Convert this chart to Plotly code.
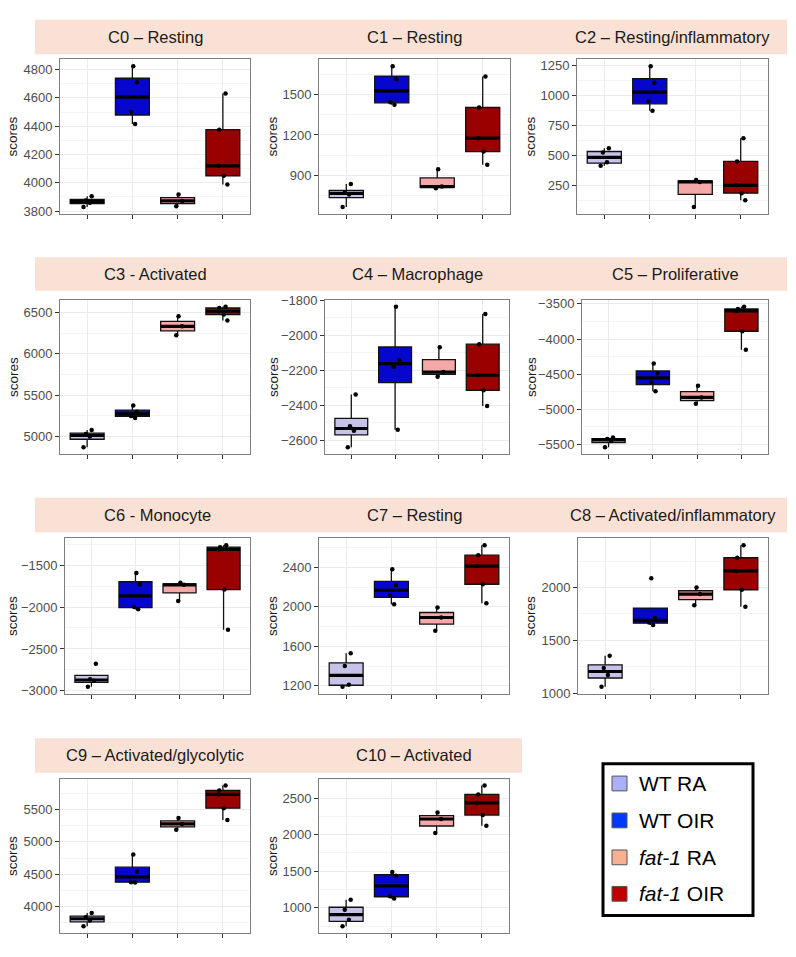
import numpy as np
import plotly.graph_objects as go

W, H = 796, 957

# ---------------- data ----------------
GROUPS = ["WT RA", "WT OIR", "fat-1 RA", "fat-1 OIR"]
LEGEND_LABELS = ["WT RA", "WT OIR", "<i>fat-1</i> RA", "<i>fat-1</i> OIR"]
BOX_COLORS = ["#C7C2E7", "#0606CC", "#F5A8A8", "#990000"]
LEGEND_COLORS = ["#A9B0F8", "#0038FF", "#F5B192", "#C00000"]

TITLES = ["C0 – Resting", "C1 – Resting", "C2 – Resting/inflammatory",
          "C3 - Activated", "C4 – Macrophage", "C5 – Proliferative",
          "C6 - Monocyte", "C7 – Resting", "C8 – Activated/inflammatory",
          "C9 – Activated/glycolytic", "C10 – Activated"]
Y_LABEL = "scores"

C0 = [[3830, 3860, 3875, 3905], [4415, 4500, 4710, 4823], [3835, 3872, 3918], [3988, 4050, 4120, 4375, 4631]]
C1 = [[668, 760, 775, 837], [1423, 1442, 1611, 1708], [806, 818, 946], [980, 1077, 1176, 1403, 1633]]
C2 = [[415, 443, 525, 560], [874, 951, 1109, 1246], [71, 280, 295], [126, 186, 251, 451, 645]]
C3 = [[4870, 5000, 5030, 5080], [5226, 5250, 5300, 5377], [6226, 6333, 6456], [6405, 6476, 6516, 6555, 6571]]
C4 = [[-2640, -2545, -2520, -2339], [-2540, -2181, -2144, -1838], [-2237, -2211, -2069], [-2404, -2315, -2229, -2052, -1879]]
C5 = [[-5540, -5450, -5420, -5400], [-4743, -4617, -4488, -4348], [-4919, -4830, -4664], [-4153, -3889, -3600, -3573, -3540]]
C6 = [[-2950, -2880, -2860, -2675], [-2027, -2000, -1733, -1596], [-1929, -1735, -1712], [-2270, -1792, -1314, -1287, -1263]]
C7 = [[1190, 1210, 1400, 1530], [2027, 2118, 2218, 2380], [1758, 1892, 1993], [2037, 2229, 2413, 2524, 2625]]
C8 = [[1060, 1170, 1238, 1353], [1644, 1668, 1710, 2088], [1831, 1937, 2000], [1816, 1978, 2156, 2281, 2400]]
C9 = [[3700, 3790, 3840, 3905], [4375, 4380, 4545, 4808], [5187, 5278, 5370], [5338, 5520, 5732, 5793, 5869]]
C10 = [[750, 840, 975, 1110], [1130, 1160, 1440, 1490], [2022, 2214, 2304], [2120, 2268, 2433, 2549, 2670]]
CLUSTERS = [C0, C1, C2, C3, C4, C5, C6, C7, C8, C9, C10]
Y_DTICK = [200, 300, 250, 500, 200, 500, 500, 400, 500, 500, 500]

# ---------------- layout (pixels) ----------------
ROW_PLOT = [(53, 210), (297, 454), (539, 697), (783, 940)]
ROW_STRIP = [(13, 48), (254, 288), (498, 533), (742, 777)]
STRIP_X = [(35, 787), (35, 787), (35, 787), (35, 522)]
PANEL_X = [(60, 250), (319, 510), (577, 768),
           (60, 250), (325, 509), (582, 768),
           (65, 250), (319, 509), (578, 768),
           (60, 250), (319, 509)]
YLAB_X = [13, 273, 531]
JITTER = [-0.08, 0.06, -0.03, 0.1, 0.02, -0.1]
BOX_W = 0.75

STRIP_FILL = "#FAE1D5"
FONT = "Liberation Sans, Arial, sans-serif"


def px(x):
    return x / W


def py(y):
    return 1 - y / H


fig = go.Figure()
shapes = []
annotations = []

for r in range(4):
    y0, y1 = ROW_STRIP[r]
    x0, x1 = STRIP_X[r]
    shapes.append(dict(type="rect", xref="paper", yref="paper",
                       x0=px(x0), x1=px(x1), y0=py(y1), y1=py(y0),
                       fillcolor=STRIP_FILL, line=dict(width=0), layer="below"))

for k, data in enumerate(CLUSTERS):
    r, c = divmod(k, 3)
    ax = "" if k == 0 else str(k + 1)
    xa, ya = "x" + ax, "y" + ax
    allv = np.concatenate([np.asarray(g, float) for g in data])
    lo, hi = allv.min(), allv.max()
    pad = 0.05 * (hi - lo)

    for i, g in enumerate(data):
        v = np.asarray(g, float)
        q1, med, q3 = np.percentile(v, [25, 50, 75])
        iqr = q3 - q1
        inside = v[(v >= q1 - 1.5 * iqr) & (v <= q3 + 1.5 * iqr)]
        wlo = min(inside.min(), q1)
        whi = max(inside.max(), q3)
        fig.add_trace(go.Box(
            x=[i], q1=[q1], median=[med], q3=[q3],
            lowerfence=[wlo], upperfence=[whi],
            width=BOX_W, whiskerwidth=0, boxpoints=False,
            fillcolor=BOX_COLORS[i], line=dict(color="#111111", width=1.3),
            xaxis=xa, yaxis=ya, hoverinfo="skip", showlegend=False))
        fig.add_trace(go.Scatter(
            x=[i - BOX_W / 2, i + BOX_W / 2], y=[med, med], mode="lines",
            line=dict(color="black", width=3.2), xaxis=xa, yaxis=ya,
            hoverinfo="skip", showlegend=False))
        xs = [i + JITTER[(j + i) % len(JITTER)] for j in range(len(v))]
        fig.add_trace(go.Scatter(
            x=xs, y=v, mode="markers",
            marker=dict(color="black", size=4.5), xaxis=xa, yaxis=ya,
            hoverinfo="skip", showlegend=False))

    x0, x1 = PANEL_X[k]
    y0, y1 = ROW_PLOT[r]
    dt = Y_DTICK[k]
    fig.layout["xaxis" + ax] = dict(
        domain=[px(x0), px(x1)], anchor=ya, range=[-0.6, 3.6],
        tickvals=[0, 1, 2, 3], showticklabels=False, ticks="outside",
        ticklen=4, tickcolor="#333333", tickwidth=1,
        showgrid=True, gridcolor="#EBEBEB", gridwidth=1.1, zeroline=False,
        showline=True, mirror=True, linecolor="#7F7F7F", linewidth=1)
    fig.layout["yaxis" + ax] = dict(
        domain=[py(y1), py(y0)], anchor=xa, range=[lo - pad, hi + pad],
        tick0=0, dtick=dt, ticks="outside", ticklen=4, tickcolor="#333333",
        tickwidth=1, tickfont=dict(size=13, color="#4D4D4D", family=FONT),
        showgrid=True, gridcolor="#EBEBEB", gridwidth=1.1, zeroline=False,
        minor=dict(dtick=dt / 2, tick0=0, showgrid=True, gridcolor="#F4F4F4",
                   gridwidth=0.6),
        showline=True, mirror=True, linecolor="#7F7F7F", linewidth=1)

    sy0, sy1 = ROW_STRIP[r]
    annotations.append(dict(
        text=TITLES[k], xref="paper", yref="paper",
        x=px((x0 + x1) / 2), y=py((sy0 + sy1) / 2),
        xanchor="center", yanchor="middle", showarrow=False,
        font=dict(size=16.5, color="#1A1A1A", family=FONT)))
    annotations.append(dict(
        text=Y_LABEL, xref="paper", yref="paper",
        x=px(YLAB_X[c]), y=py((y0 + y1) / 2), textangle=-90,
        xanchor="center", yanchor="middle", showarrow=False,
        font=dict(size=13.5, color="#1A1A1A", family=FONT)))

# ---------------- legend (drawn) ----------------
LEG_BOX = (603, 768, 753, 922)
LEG_ROWS_Y = [788, 825.5, 863, 900]
shapes.append(dict(type="rect", xref="paper", yref="paper",
                   x0=px(LEG_BOX[0]), x1=px(LEG_BOX[2]),
                   y0=py(LEG_BOX[3]), y1=py(LEG_BOX[1]),
                   line=dict(color="black", width=3), fillcolor="white"))
for i, lab in enumerate(LEGEND_LABELS):
    yc = LEG_ROWS_Y[i]
    shapes.append(dict(type="rect", xref="paper", yref="paper",
                       x0=px(612), x1=px(627), y0=py(yc + 7.5), y1=py(yc - 7.5),
                       fillcolor=LEGEND_COLORS[i],
                       line=dict(color="#555555", width=1)))
    annotations.append(dict(
        text=lab, xref="paper", yref="paper", x=px(637), y=py(yc),
        xanchor="left", yanchor="middle", showarrow=False,
        font=dict(size=21, color="black", family=FONT)))

fig.update_layout(
    width=W, height=H, margin=dict(l=0, r=0, t=0, b=0),
    paper_bgcolor="white", plot_bgcolor="white", showlegend=False,
    shapes=shapes, annotations=annotations, hovermode=False,
    font=dict(family=FONT))

fig.write_html("out.html")
